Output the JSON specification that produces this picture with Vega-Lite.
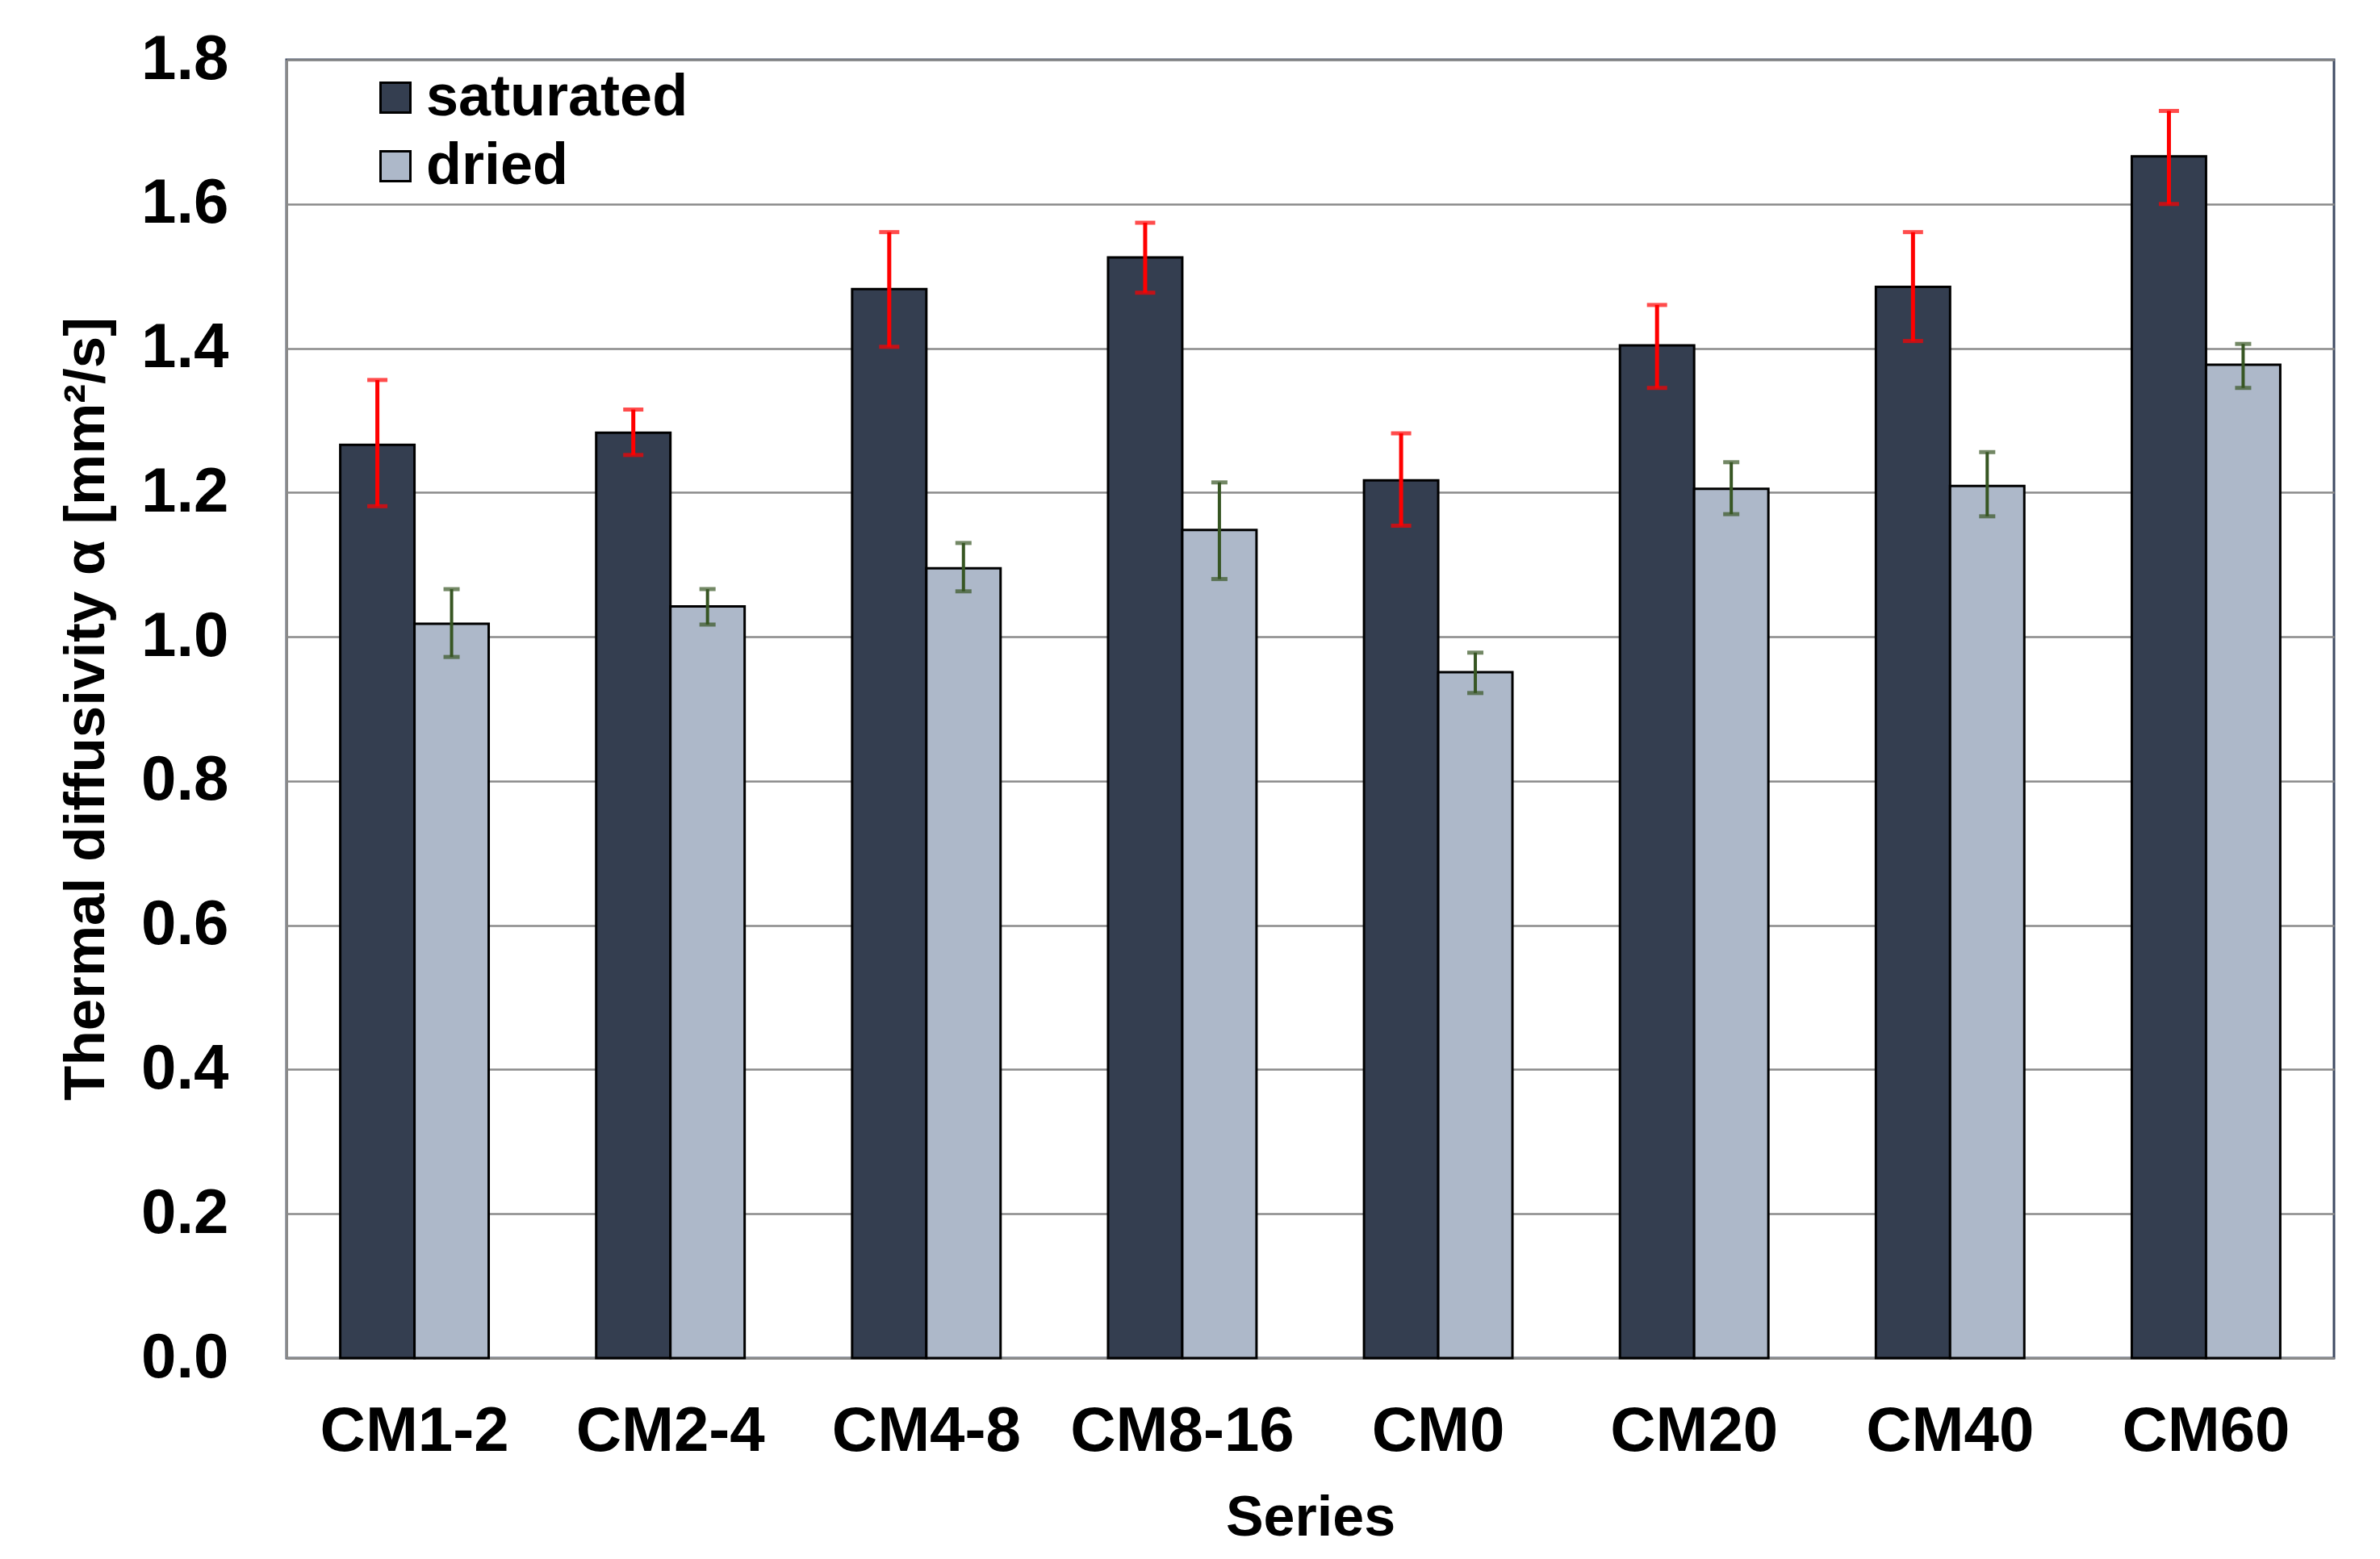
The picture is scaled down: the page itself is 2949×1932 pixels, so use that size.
{
  "$schema": "https://vega.github.io/schema/vega-lite/v6.json",
  "width": 2537,
  "height": 1609,
  "autosize": {"type": "none"},
  "padding": {"left": 355, "top": 74, "right": 57, "bottom": 249},
  "background": "white",
  "config": {
    "font": "Liberation Sans",
    "view": {"stroke": "#3e4a63", "strokeWidth": 3},
    "axis": {
      "labelFont": "Liberation Sans",
      "titleFont": "Liberation Sans",
      "labelFontWeight": "bold",
      "titleFontWeight": "bold",
      "labelColor": "#000000",
      "titleColor": "#000000",
      "domainColor": "#8a8a8a",
      "domainWidth": 3,
      "ticks": false,
      "tickSize": 0,
      "labelLimit": 0
    },
    "legend": {
      "labelFont": "Liberation Sans",
      "labelFontWeight": "bold",
      "labelColor": "#000000",
      "labelLimit": 0
    }
  },
  "data": {
    "values": [
      {"series": "CM1-2", "condition": "saturated", "value": 1.266, "lo": 1.181, "hi": 1.356},
      {"series": "CM1-2", "condition": "dried", "value": 1.018, "lo": 0.972, "hi": 1.066},
      {"series": "CM2-4", "condition": "saturated", "value": 1.283, "lo": 1.252, "hi": 1.315},
      {"series": "CM2-4", "condition": "dried", "value": 1.042, "lo": 1.017, "hi": 1.066},
      {"series": "CM4-8", "condition": "saturated", "value": 1.482, "lo": 1.402, "hi": 1.561},
      {"series": "CM4-8", "condition": "dried", "value": 1.095, "lo": 1.063, "hi": 1.130},
      {"series": "CM8-16", "condition": "saturated", "value": 1.526, "lo": 1.477, "hi": 1.574},
      {"series": "CM8-16", "condition": "dried", "value": 1.148, "lo": 1.080, "hi": 1.214},
      {"series": "CM0", "condition": "saturated", "value": 1.217, "lo": 1.154, "hi": 1.282},
      {"series": "CM0", "condition": "dried", "value": 0.951, "lo": 0.922, "hi": 0.978},
      {"series": "CM20", "condition": "saturated", "value": 1.404, "lo": 1.345, "hi": 1.460},
      {"series": "CM20", "condition": "dried", "value": 1.205, "lo": 1.170, "hi": 1.242},
      {"series": "CM40", "condition": "saturated", "value": 1.485, "lo": 1.410, "hi": 1.561},
      {"series": "CM40", "condition": "dried", "value": 1.209, "lo": 1.167, "hi": 1.256},
      {"series": "CM60", "condition": "saturated", "value": 1.666, "lo": 1.600, "hi": 1.729},
      {"series": "CM60", "condition": "dried", "value": 1.377, "lo": 1.345, "hi": 1.406}
    ]
  },
  "encoding": {
    "x": {
      "field": "series",
      "type": "nominal",
      "sort": ["CM1-2", "CM2-4", "CM4-8", "CM8-16", "CM0", "CM20", "CM40", "CM60"],
      "scale": {"paddingInner": 0.42, "paddingOuter": 0.21},
      "axis": {
        "title": "Series",
        "labelAngle": 0,
        "labelFontSize": 78,
        "labelPadding": 52,
        "labelLimit": 0,
        "titleFontSize": 70,
        "titleY": 219,
        "titleBaseline": "alphabetic",
        "grid": false
      }
    },
    "xOffset": {
      "field": "condition",
      "type": "nominal",
      "sort": ["saturated", "dried"],
      "scale": {"paddingInner": 0, "paddingOuter": 0}
    }
  },
  "layer": [
    {
      "mark": {"type": "bar", "stroke": "#000000", "strokeWidth": 3},
      "encoding": {
        "y": {
          "field": "value",
          "type": "quantitative",
          "scale": {"domain": [0, 1.8], "nice": false, "zero": true},
          "axis": {
            "title": "Thermal diffusivity α [mm²/s]",
            "values": [0, 0.2, 0.4, 0.6, 0.8, 1.0, 1.2, 1.4, 1.6, 1.8],
            "format": ".1f",
            "labelFontSize": 78,
            "labelPadding": 72,
            "titleFontSize": 71,
            "titleX": -227,
            "titleY": 804,
            "titleAngle": -90,
            "titleAlign": "center",
            "titleBaseline": "alphabetic",
            "grid": true,
            "gridColor": "#8a8a8a",
            "gridWidth": 2.5
          }
        },
        "color": {
          "field": "condition",
          "type": "nominal",
          "sort": ["saturated", "dried"],
          "scale": {"domain": ["saturated", "dried"], "range": ["#343e50", "#adb8c9"]},
          "legend": {
            "title": null,
            "orient": "none",
            "legendX": 99,
            "legendY": 11,
            "padding": 0,
            "symbolType": "square",
            "symbolSize": 1369,
            "symbolStrokeColor": "#000000",
            "symbolStrokeWidth": 3,
            "labelFontSize": 72,
            "labelOffset": 2,
            "labelLimit": 0,
            "rowPadding": 13
          }
        }
      }
    },
    {
      "mark": {"type": "rule"},
      "encoding": {
        "y": {"field": "lo", "type": "quantitative"},
        "y2": {"field": "hi"},
        "color": {"condition": {"test": "datum.condition === 'saturated'", "value": "#ff0000"}, "value": "#375623"},
        "strokeWidth": {"condition": {"test": "datum.condition === 'saturated'", "value": 5}, "value": 4}
      }
    },
    {
      "mark": {"type": "tick", "thickness": 5},
      "encoding": {
        "y": {"field": "lo", "type": "quantitative"},
        "color": {"condition": {"test": "datum.condition === 'saturated'", "value": "#ff0000"}, "value": "#375623"},
        "size": {"condition": {"test": "datum.condition === 'saturated'", "value": 25}, "value": 20}
      }
    },
    {
      "mark": {"type": "tick", "thickness": 5},
      "encoding": {
        "y": {"field": "hi", "type": "quantitative"},
        "color": {"condition": {"test": "datum.condition === 'saturated'", "value": "#ff0000"}, "value": "#375623"},
        "size": {"condition": {"test": "datum.condition === 'saturated'", "value": 25}, "value": 20}
      }
    }
  ]
}
